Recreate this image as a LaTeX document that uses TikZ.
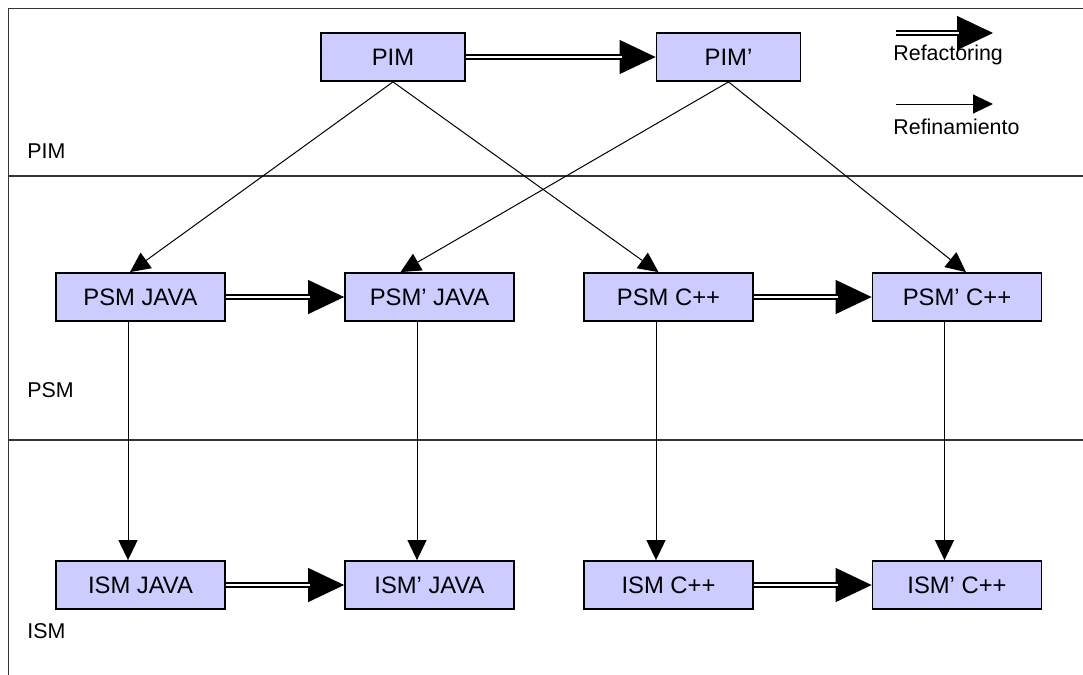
\documentclass[tikz,border=0pt]{standalone}
\usepackage{fontspec}
\setmainfont{Liberation Sans}
\usetikzlibrary{arrows.meta,calc}
\definecolor{boxfill}{HTML}{CCCCFF}
\tikzset{
  model/.style={draw=black, fill=boxfill, line width=0.9pt, minimum width=84.5pt, minimum height=24pt, inner sep=0pt, font=\fontsize{11.9}{13}\selectfont},
  pimbox/.style={model, minimum width=72pt},
  band/.style={draw=black!80, line width=0.6pt},
  lbl/.style={anchor=west, inner sep=0pt, font=\fontsize{10.7}{12}\selectfont},
  refine/.style={line width=0.5pt, -{Triangle[length=10pt,width=9.5pt]}},
  bigtip/.style={line width=0.5pt, -{Triangle[length=18pt,width=17pt]}},
  refact/.style={line width=1.1pt, double, double distance=0.9pt, shorten >=17pt}
}
\begin{document}
\begin{tikzpicture}[x=0.5pt,y=-0.5pt]
\useasboundingbox (0,0) rectangle (1083,675);
% frame and bands
\draw[band] (1083,8.5) -- (8.5,8.5) -- (8.5,675);
\draw[band] (8.5,176) -- (1083,176);
\draw[band] (8.5,440) -- (1083,440);
\node[lbl] (lpim) at (27,151) {PIM};
\node[lbl] (lpsm) at (27,390) {PSM};
\node[lbl] (lism) at (27,631) {ISM};
% nodes
\node[pimbox] (pim) at (393,57) {PIM};
\node[pimbox] (pimp) at (728.5,57) {PIM’};
\node[model] (psmj) at (140.5,297) {PSM JAVA};
\node[model] (psmjp) at (429.5,297) {PSM’ JAVA};
\node[model] (psmc) at (668.5,297) {PSM C++};
\node[model] (psmcp) at (957,297) {PSM’ C++};
\node[model] (ismj) at (140.5,585) {ISM JAVA};
\node[model] (ismjp) at (429.5,585) {ISM’ JAVA};
\node[model] (ismc) at (668.5,585) {ISM C++};
\node[model] (ismcp) at (957,585) {ISM’ C++};
% refactoring arrows
\foreach \a/\b in {pim/pimp, psmj/psmjp, psmc/psmcp, ismj/ismjp, ismc/ismcp}{
  \draw[bigtip] (\a.east) -- (\b.west);
  \draw[refact] (\a.east) -- (\b.west);
}
% refinement arrows PIM -> PSM
\coordinate (t1) at ($(psmj.north)+(-10.5,0)$);
\coordinate (t2) at ($(psmjp.north)+(-29,0)$);
\coordinate (t3) at ($(psmc.north)+(-10,0)$);
\coordinate (t4) at ($(psmcp.north)+(9,0)$);
\draw[refine] (pim.south) -- (t1);
\draw[refine] (pim.south) -- (t3);
\draw[refine] (pimp.south) -- (t2);
\draw[refine] (pimp.south) -- (t4);
% refinement arrows PSM -> ISM
\foreach \a/\b in {psmj/ismj, psmjp/ismjp, psmc/ismc, psmcp/ismcp}{
  \draw[refine] ($(\a.south)+(-12.5,0)$) -- ($(\b.north)+(-12.5,0)$);
}
% legend
\coordinate (lg1a) at (896,33);
\coordinate (lg1b) at (993,33);
\coordinate (lg2a) at (896,104);
\coordinate (lg2b) at (993,104);
\draw[bigtip] (lg1a) -- (lg1b);
\draw[refact] (lg1a) -- (lg1b);
\node[lbl] (lrefact) at (893,55) {Refactoring};
\draw[refine] (lg2a) -- (lg2b);
\node[lbl] (lrefine) at (893,127) {Refinamiento};
\end{tikzpicture}
\end{document}
